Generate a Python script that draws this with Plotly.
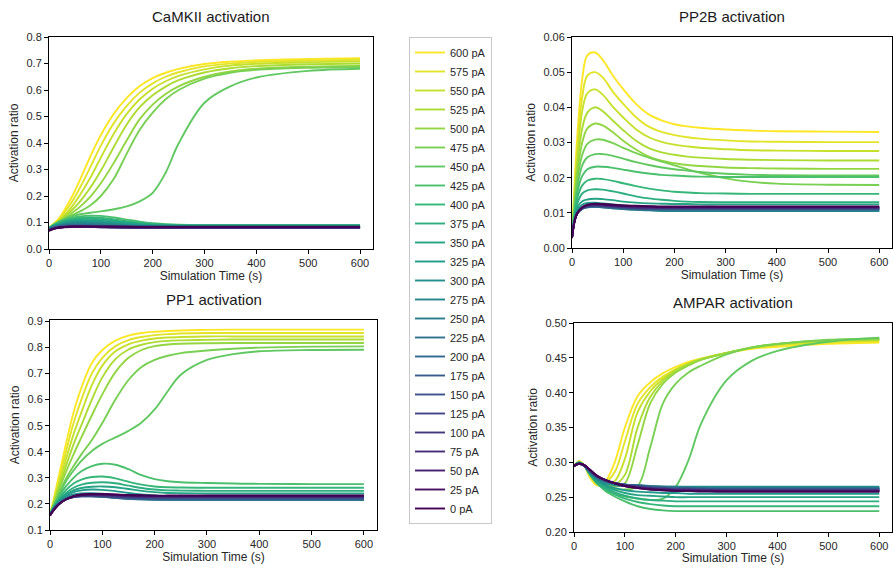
import plotly.graph_objects as go
from plotly.colors import sample_colorscale

W, H = 893, 565

# sampled simulation times (s)
time_s = [0, 5, 10, 20, 30, 45, 60, 80, 100, 125, 150, 175, 200, 225, 250, 300, 350, 400, 500, 600]

# injected currents, one row per current in every panel below (0 pA first)
currents_pA = [0, 25, 50, 75, 100, 125, 150, 175, 200, 225, 250, 275, 300,
               325, 350, 375, 400, 425, 450, 475, 500, 525, 550, 575, 600]

camkii = [
    [0.068, 0.073, 0.077, 0.081, 0.083, 0.085, 0.085, 0.085, 0.085, 0.085, 0.085, 0.084, 0.084, 0.084, 0.084, 0.084, 0.084, 0.084, 0.084, 0.084],
    [0.069, 0.073, 0.077, 0.081, 0.083, 0.084, 0.085, 0.084, 0.084, 0.084, 0.083, 0.083, 0.083, 0.083, 0.083, 0.083, 0.083, 0.083, 0.083, 0.083],
    [0.070, 0.074, 0.077, 0.081, 0.083, 0.084, 0.084, 0.084, 0.083, 0.083, 0.082, 0.082, 0.082, 0.082, 0.082, 0.082, 0.082, 0.082, 0.082, 0.082],
    [0.070, 0.074, 0.077, 0.080, 0.082, 0.083, 0.083, 0.083, 0.082, 0.082, 0.082, 0.081, 0.081, 0.081, 0.081, 0.081, 0.081, 0.081, 0.081, 0.081],
    [0.071, 0.075, 0.078, 0.081, 0.083, 0.084, 0.084, 0.083, 0.082, 0.081, 0.081, 0.080, 0.080, 0.080, 0.080, 0.080, 0.080, 0.080, 0.080, 0.080],
    [0.072, 0.075, 0.078, 0.082, 0.084, 0.085, 0.085, 0.084, 0.083, 0.082, 0.081, 0.080, 0.080, 0.080, 0.080, 0.080, 0.080, 0.080, 0.080, 0.080],
    [0.072, 0.076, 0.079, 0.083, 0.085, 0.086, 0.086, 0.085, 0.084, 0.082, 0.081, 0.080, 0.079, 0.079, 0.079, 0.079, 0.079, 0.079, 0.079, 0.079],
    [0.073, 0.077, 0.080, 0.084, 0.086, 0.087, 0.087, 0.086, 0.085, 0.083, 0.081, 0.080, 0.079, 0.079, 0.079, 0.079, 0.079, 0.079, 0.079, 0.079],
    [0.074, 0.078, 0.081, 0.085, 0.087, 0.089, 0.089, 0.088, 0.086, 0.084, 0.082, 0.080, 0.079, 0.079, 0.079, 0.079, 0.079, 0.079, 0.079, 0.079],
    [0.075, 0.079, 0.082, 0.086, 0.089, 0.091, 0.091, 0.090, 0.088, 0.086, 0.083, 0.081, 0.080, 0.080, 0.080, 0.080, 0.080, 0.080, 0.080, 0.080],
    [0.076, 0.080, 0.083, 0.088, 0.091, 0.093, 0.094, 0.093, 0.091, 0.088, 0.085, 0.083, 0.082, 0.081, 0.081, 0.081, 0.081, 0.081, 0.081, 0.081],
    [0.077, 0.081, 0.084, 0.089, 0.093, 0.096, 0.097, 0.096, 0.094, 0.091, 0.088, 0.086, 0.084, 0.083, 0.083, 0.083, 0.083, 0.083, 0.083, 0.083],
    [0.078, 0.082, 0.086, 0.091, 0.095, 0.099, 0.100, 0.100, 0.098, 0.094, 0.091, 0.088, 0.086, 0.085, 0.085, 0.085, 0.085, 0.085, 0.085, 0.085],
    [0.078, 0.083, 0.087, 0.093, 0.098, 0.102, 0.104, 0.104, 0.102, 0.098, 0.094, 0.091, 0.089, 0.088, 0.087, 0.087, 0.087, 0.087, 0.087, 0.087],
    [0.079, 0.084, 0.088, 0.095, 0.101, 0.106, 0.108, 0.109, 0.107, 0.103, 0.098, 0.094, 0.091, 0.089, 0.088, 0.088, 0.088, 0.088, 0.088, 0.088],
    [0.079, 0.085, 0.090, 0.097, 0.104, 0.110, 0.113, 0.114, 0.112, 0.107, 0.101, 0.096, 0.093, 0.091, 0.090, 0.089, 0.089, 0.089, 0.089, 0.089],
    [0.080, 0.085, 0.091, 0.100, 0.107, 0.114, 0.118, 0.120, 0.118, 0.112, 0.105, 0.099, 0.095, 0.092, 0.091, 0.090, 0.090, 0.090, 0.090, 0.090],
    [0.080, 0.086, 0.092, 0.102, 0.110, 0.118, 0.123, 0.126, 0.125, 0.119, 0.111, 0.103, 0.097, 0.094, 0.092, 0.091, 0.091, 0.091, 0.091, 0.091],
    [0.080, 0.086, 0.092, 0.103, 0.113, 0.124, 0.131, 0.137, 0.142, 0.150, 0.161, 0.180, 0.212, 0.288, 0.398, 0.552, 0.614, 0.647, 0.672, 0.680],
    [0.080, 0.086, 0.092, 0.103, 0.114, 0.128, 0.142, 0.165, 0.200, 0.265, 0.360, 0.450, 0.515, 0.565, 0.600, 0.643, 0.665, 0.676, 0.684, 0.687],
    [0.080, 0.086, 0.092, 0.104, 0.117, 0.137, 0.160, 0.198, 0.248, 0.325, 0.410, 0.490, 0.545, 0.585, 0.614, 0.650, 0.670, 0.680, 0.688, 0.692],
    [0.080, 0.087, 0.093, 0.106, 0.122, 0.148, 0.180, 0.232, 0.295, 0.385, 0.470, 0.535, 0.580, 0.613, 0.637, 0.666, 0.682, 0.690, 0.697, 0.700],
    [0.080, 0.087, 0.094, 0.109, 0.128, 0.162, 0.205, 0.270, 0.345, 0.435, 0.510, 0.565, 0.605, 0.633, 0.653, 0.678, 0.692, 0.699, 0.705, 0.708],
    [0.080, 0.087, 0.095, 0.113, 0.138, 0.180, 0.232, 0.310, 0.390, 0.475, 0.540, 0.590, 0.625, 0.650, 0.667, 0.689, 0.700, 0.706, 0.711, 0.714],
    [0.080, 0.088, 0.097, 0.118, 0.148, 0.200, 0.262, 0.350, 0.430, 0.510, 0.570, 0.615, 0.645, 0.665, 0.680, 0.698, 0.707, 0.712, 0.717, 0.720],
]

pp2b = [
    [0.0028, 0.0075, 0.0098, 0.0116, 0.0123, 0.0126, 0.0125, 0.0123, 0.0121, 0.0120, 0.0119, 0.0118, 0.0118, 0.0118, 0.0118, 0.0118, 0.0118, 0.0118, 0.0118, 0.0118],
    [0.0029, 0.0076, 0.0098, 0.0115, 0.0122, 0.0125, 0.0124, 0.0122, 0.0120, 0.0119, 0.0118, 0.0117, 0.0117, 0.0117, 0.0117, 0.0117, 0.0117, 0.0117, 0.0117, 0.0117],
    [0.0030, 0.0076, 0.0098, 0.0115, 0.0121, 0.0124, 0.0123, 0.0121, 0.0119, 0.0118, 0.0117, 0.0116, 0.0116, 0.0116, 0.0116, 0.0116, 0.0116, 0.0116, 0.0116, 0.0116],
    [0.0030, 0.0077, 0.0098, 0.0114, 0.0120, 0.0123, 0.0122, 0.0120, 0.0118, 0.0116, 0.0115, 0.0115, 0.0115, 0.0115, 0.0115, 0.0115, 0.0115, 0.0115, 0.0115, 0.0115],
    [0.0030, 0.0077, 0.0098, 0.0114, 0.0120, 0.0122, 0.0121, 0.0119, 0.0117, 0.0115, 0.0114, 0.0114, 0.0114, 0.0114, 0.0114, 0.0114, 0.0114, 0.0114, 0.0114, 0.0114],
    [0.0030, 0.0077, 0.0098, 0.0113, 0.0119, 0.0121, 0.0120, 0.0118, 0.0116, 0.0114, 0.0113, 0.0113, 0.0113, 0.0113, 0.0113, 0.0113, 0.0113, 0.0113, 0.0113, 0.0113],
    [0.0030, 0.0078, 0.0098, 0.0113, 0.0118, 0.0120, 0.0119, 0.0117, 0.0115, 0.0113, 0.0112, 0.0112, 0.0112, 0.0112, 0.0112, 0.0112, 0.0112, 0.0112, 0.0112, 0.0112],
    [0.0030, 0.0078, 0.0098, 0.0112, 0.0117, 0.0119, 0.0118, 0.0116, 0.0114, 0.0112, 0.0111, 0.0111, 0.0111, 0.0111, 0.0111, 0.0111, 0.0111, 0.0111, 0.0111, 0.0111],
    [0.0030, 0.0078, 0.0098, 0.0112, 0.0117, 0.0118, 0.0117, 0.0115, 0.0113, 0.0111, 0.0110, 0.0110, 0.0110, 0.0110, 0.0110, 0.0110, 0.0110, 0.0110, 0.0110, 0.0110],
    [0.0030, 0.0079, 0.0099, 0.0112, 0.0116, 0.0118, 0.0117, 0.0114, 0.0112, 0.0110, 0.0109, 0.0109, 0.0109, 0.0109, 0.0109, 0.0109, 0.0109, 0.0109, 0.0109, 0.0109],
    [0.0030, 0.0079, 0.0099, 0.0112, 0.0116, 0.0117, 0.0116, 0.0113, 0.0111, 0.0109, 0.0108, 0.0107, 0.0107, 0.0107, 0.0107, 0.0107, 0.0107, 0.0107, 0.0107, 0.0107],
    [0.0030, 0.0080, 0.0100, 0.0113, 0.0117, 0.0118, 0.0116, 0.0113, 0.0111, 0.0109, 0.0107, 0.0106, 0.0106, 0.0106, 0.0106, 0.0106, 0.0106, 0.0106, 0.0106, 0.0106],
    [0.0030, 0.0081, 0.0102, 0.0116, 0.0120, 0.0121, 0.0119, 0.0116, 0.0113, 0.0110, 0.0108, 0.0106, 0.0105, 0.0105, 0.0105, 0.0105, 0.0105, 0.0105, 0.0105, 0.0105],
    [0.0030, 0.0083, 0.0107, 0.0123, 0.0128, 0.0129, 0.0127, 0.0124, 0.0121, 0.0118, 0.0116, 0.0114, 0.0113, 0.0112, 0.0112, 0.0112, 0.0112, 0.0112, 0.0112, 0.0112],
    [0.0030, 0.0085, 0.0115, 0.0133, 0.0138, 0.0140, 0.0139, 0.0136, 0.0132, 0.0129, 0.0127, 0.0126, 0.0125, 0.0125, 0.0124, 0.0124, 0.0124, 0.0124, 0.0124, 0.0124],
    [0.0030, 0.0090, 0.0125, 0.0155, 0.0164, 0.0167, 0.0166, 0.0161, 0.0155, 0.0147, 0.0141, 0.0137, 0.0134, 0.0132, 0.0131, 0.0130, 0.0130, 0.0130, 0.0130, 0.0130],
    [0.0030, 0.0095, 0.0140, 0.0178, 0.0192, 0.0197, 0.0196, 0.0191, 0.0184, 0.0176, 0.0169, 0.0164, 0.0160, 0.0158, 0.0156, 0.0155, 0.0154, 0.0154, 0.0154, 0.0154],
    [0.0030, 0.0100, 0.0155, 0.0205, 0.0224, 0.0231, 0.0231, 0.0228, 0.0223, 0.0217, 0.0212, 0.0208, 0.0206, 0.0204, 0.0203, 0.0202, 0.0202, 0.0202, 0.0202, 0.0202],
    [0.0030, 0.0110, 0.0170, 0.0235, 0.0258, 0.0267, 0.0267, 0.0262, 0.0254, 0.0244, 0.0236, 0.0229, 0.0224, 0.0220, 0.0216, 0.0211, 0.0208, 0.0207, 0.0206, 0.0206],
    [0.0030, 0.0120, 0.0190, 0.0265, 0.0296, 0.0308, 0.0308, 0.0298, 0.0285, 0.0270, 0.0257, 0.0246, 0.0235, 0.0224, 0.0214, 0.0198, 0.0188, 0.0183, 0.0180, 0.0179],
    [0.0030, 0.0130, 0.0210, 0.0300, 0.0340, 0.0354, 0.0349, 0.0329, 0.0305, 0.0280, 0.0260, 0.0248, 0.0241, 0.0236, 0.0233, 0.0229, 0.0227, 0.0226, 0.0225, 0.0225],
    [0.0030, 0.0140, 0.0230, 0.0340, 0.0385, 0.0400, 0.0389, 0.0362, 0.0335, 0.0305, 0.0284, 0.0272, 0.0265, 0.0260, 0.0257, 0.0253, 0.0251, 0.0250, 0.0249, 0.0249],
    [0.0030, 0.0150, 0.0250, 0.0390, 0.0440, 0.0451, 0.0436, 0.0401, 0.0371, 0.0338, 0.0315, 0.0302, 0.0294, 0.0289, 0.0285, 0.0281, 0.0278, 0.0277, 0.0276, 0.0276],
    [0.0030, 0.0160, 0.0280, 0.0430, 0.0490, 0.0500, 0.0485, 0.0444, 0.0410, 0.0372, 0.0345, 0.0330, 0.0321, 0.0315, 0.0311, 0.0306, 0.0303, 0.0302, 0.0301, 0.0301],
    [0.0030, 0.0180, 0.0310, 0.0480, 0.0548, 0.0556, 0.0535, 0.0490, 0.0452, 0.0410, 0.0380, 0.0363, 0.0352, 0.0346, 0.0342, 0.0337, 0.0334, 0.0332, 0.0331, 0.0330],
]

pp1 = [
    [0.155, 0.170, 0.183, 0.203, 0.217, 0.230, 0.236, 0.238, 0.238, 0.236, 0.234, 0.233, 0.232, 0.232, 0.232, 0.232, 0.232, 0.232, 0.232, 0.232],
    [0.156, 0.171, 0.184, 0.204, 0.217, 0.229, 0.235, 0.237, 0.237, 0.235, 0.233, 0.232, 0.231, 0.231, 0.231, 0.231, 0.231, 0.231, 0.231, 0.231],
    [0.156, 0.171, 0.184, 0.204, 0.217, 0.229, 0.234, 0.236, 0.236, 0.234, 0.232, 0.231, 0.230, 0.230, 0.230, 0.230, 0.230, 0.230, 0.230, 0.230],
    [0.157, 0.172, 0.185, 0.204, 0.217, 0.228, 0.233, 0.235, 0.234, 0.232, 0.230, 0.229, 0.228, 0.228, 0.228, 0.228, 0.228, 0.228, 0.228, 0.228],
    [0.157, 0.172, 0.185, 0.204, 0.217, 0.228, 0.232, 0.233, 0.232, 0.230, 0.228, 0.227, 0.226, 0.226, 0.226, 0.226, 0.226, 0.226, 0.226, 0.226],
    [0.157, 0.172, 0.185, 0.204, 0.217, 0.227, 0.231, 0.232, 0.231, 0.228, 0.226, 0.225, 0.224, 0.224, 0.224, 0.224, 0.224, 0.224, 0.224, 0.224],
    [0.158, 0.173, 0.186, 0.204, 0.217, 0.226, 0.230, 0.231, 0.229, 0.226, 0.224, 0.223, 0.222, 0.222, 0.222, 0.222, 0.222, 0.222, 0.222, 0.222],
    [0.158, 0.173, 0.186, 0.204, 0.217, 0.226, 0.229, 0.229, 0.228, 0.225, 0.222, 0.221, 0.220, 0.220, 0.220, 0.220, 0.220, 0.220, 0.220, 0.220],
    [0.158, 0.174, 0.187, 0.205, 0.217, 0.226, 0.229, 0.229, 0.227, 0.223, 0.220, 0.219, 0.218, 0.218, 0.218, 0.218, 0.218, 0.218, 0.218, 0.218],
    [0.159, 0.175, 0.188, 0.206, 0.218, 0.227, 0.230, 0.230, 0.228, 0.223, 0.220, 0.218, 0.217, 0.217, 0.217, 0.217, 0.217, 0.217, 0.217, 0.217],
    [0.159, 0.175, 0.189, 0.207, 0.219, 0.228, 0.231, 0.231, 0.229, 0.224, 0.220, 0.218, 0.217, 0.216, 0.216, 0.216, 0.216, 0.216, 0.216, 0.216],
    [0.160, 0.176, 0.190, 0.208, 0.221, 0.231, 0.234, 0.234, 0.232, 0.227, 0.222, 0.219, 0.217, 0.216, 0.216, 0.216, 0.216, 0.216, 0.216, 0.216],
    [0.160, 0.177, 0.191, 0.210, 0.224, 0.236, 0.240, 0.241, 0.239, 0.233, 0.227, 0.223, 0.220, 0.219, 0.218, 0.218, 0.218, 0.218, 0.218, 0.218],
    [0.160, 0.177, 0.193, 0.215, 0.230, 0.245, 0.252, 0.255, 0.254, 0.249, 0.242, 0.236, 0.232, 0.230, 0.229, 0.228, 0.228, 0.228, 0.228, 0.228],
    [0.160, 0.178, 0.194, 0.218, 0.235, 0.252, 0.261, 0.266, 0.267, 0.264, 0.257, 0.250, 0.245, 0.242, 0.241, 0.240, 0.240, 0.240, 0.240, 0.240],
    [0.160, 0.179, 0.196, 0.222, 0.241, 0.262, 0.274, 0.281, 0.283, 0.279, 0.270, 0.261, 0.255, 0.252, 0.251, 0.250, 0.250, 0.250, 0.250, 0.250],
    [0.160, 0.180, 0.198, 0.228, 0.252, 0.278, 0.293, 0.303, 0.305, 0.298, 0.285, 0.274, 0.267, 0.264, 0.263, 0.262, 0.262, 0.262, 0.262, 0.262],
    [0.160, 0.182, 0.202, 0.237, 0.266, 0.300, 0.325, 0.345, 0.354, 0.350, 0.333, 0.310, 0.295, 0.287, 0.283, 0.280, 0.278, 0.277, 0.276, 0.276],
    [0.160, 0.183, 0.205, 0.245, 0.285, 0.328, 0.365, 0.403, 0.430, 0.455, 0.480, 0.512, 0.562, 0.632, 0.695, 0.752, 0.774, 0.785, 0.790, 0.791],
    [0.160, 0.185, 0.210, 0.255, 0.295, 0.345, 0.390, 0.445, 0.510, 0.600, 0.675, 0.725, 0.752, 0.768, 0.778, 0.788, 0.795, 0.799, 0.803, 0.804],
    [0.160, 0.187, 0.215, 0.270, 0.320, 0.390, 0.455, 0.540, 0.620, 0.705, 0.760, 0.790, 0.805, 0.811, 0.814, 0.816, 0.817, 0.817, 0.817, 0.817],
    [0.160, 0.189, 0.220, 0.282, 0.342, 0.428, 0.502, 0.600, 0.685, 0.755, 0.792, 0.810, 0.820, 0.825, 0.827, 0.829, 0.830, 0.830, 0.830, 0.830],
    [0.160, 0.191, 0.226, 0.297, 0.367, 0.467, 0.551, 0.655, 0.730, 0.785, 0.812, 0.826, 0.834, 0.838, 0.840, 0.842, 0.842, 0.842, 0.842, 0.842],
    [0.160, 0.195, 0.235, 0.315, 0.395, 0.510, 0.600, 0.700, 0.760, 0.805, 0.828, 0.840, 0.847, 0.851, 0.853, 0.855, 0.855, 0.855, 0.855, 0.855],
    [0.160, 0.200, 0.245, 0.335, 0.425, 0.550, 0.645, 0.740, 0.790, 0.826, 0.845, 0.855, 0.860, 0.863, 0.865, 0.867, 0.868, 0.868, 0.868, 0.868],
]

ampar = [
    [0.294, 0.297, 0.298, 0.296, 0.290, 0.281, 0.275, 0.270, 0.266, 0.263, 0.261, 0.260, 0.259, 0.259, 0.258, 0.258, 0.258, 0.258, 0.258, 0.258],
    [0.294, 0.297, 0.298, 0.296, 0.290, 0.281, 0.275, 0.270, 0.266, 0.263, 0.261, 0.260, 0.259, 0.259, 0.259, 0.258, 0.258, 0.258, 0.258, 0.258],
    [0.295, 0.297, 0.298, 0.296, 0.290, 0.280, 0.275, 0.270, 0.266, 0.264, 0.262, 0.261, 0.260, 0.260, 0.259, 0.259, 0.259, 0.259, 0.259, 0.259],
    [0.295, 0.297, 0.298, 0.296, 0.290, 0.280, 0.275, 0.270, 0.266, 0.264, 0.262, 0.261, 0.260, 0.260, 0.260, 0.259, 0.259, 0.259, 0.259, 0.259],
    [0.295, 0.297, 0.298, 0.296, 0.289, 0.280, 0.275, 0.270, 0.267, 0.265, 0.263, 0.262, 0.261, 0.261, 0.260, 0.260, 0.260, 0.260, 0.260, 0.260],
    [0.295, 0.297, 0.298, 0.296, 0.289, 0.280, 0.275, 0.270, 0.267, 0.265, 0.263, 0.262, 0.261, 0.261, 0.261, 0.260, 0.260, 0.260, 0.260, 0.260],
    [0.295, 0.297, 0.298, 0.295, 0.289, 0.280, 0.275, 0.270, 0.268, 0.266, 0.264, 0.263, 0.262, 0.262, 0.261, 0.261, 0.261, 0.261, 0.261, 0.261],
    [0.295, 0.297, 0.298, 0.295, 0.289, 0.279, 0.274, 0.270, 0.268, 0.266, 0.264, 0.263, 0.262, 0.262, 0.262, 0.261, 0.261, 0.261, 0.261, 0.261],
    [0.295, 0.297, 0.298, 0.295, 0.288, 0.279, 0.274, 0.270, 0.268, 0.266, 0.265, 0.264, 0.263, 0.263, 0.262, 0.262, 0.262, 0.262, 0.262, 0.262],
    [0.295, 0.297, 0.298, 0.295, 0.288, 0.279, 0.274, 0.270, 0.268, 0.267, 0.265, 0.264, 0.263, 0.263, 0.263, 0.262, 0.262, 0.262, 0.262, 0.262],
    [0.295, 0.297, 0.298, 0.295, 0.287, 0.278, 0.273, 0.270, 0.268, 0.267, 0.266, 0.265, 0.264, 0.264, 0.263, 0.263, 0.263, 0.263, 0.263, 0.263],
    [0.295, 0.297, 0.298, 0.295, 0.287, 0.277, 0.272, 0.269, 0.268, 0.267, 0.266, 0.265, 0.265, 0.264, 0.264, 0.264, 0.264, 0.264, 0.264, 0.264],
    [0.295, 0.298, 0.299, 0.295, 0.286, 0.276, 0.270, 0.267, 0.266, 0.266, 0.265, 0.265, 0.265, 0.265, 0.265, 0.265, 0.265, 0.265, 0.265, 0.265],
    [0.295, 0.298, 0.299, 0.295, 0.286, 0.275, 0.268, 0.263, 0.260, 0.258, 0.257, 0.256, 0.256, 0.255, 0.255, 0.255, 0.255, 0.255, 0.255, 0.255],
    [0.295, 0.298, 0.299, 0.295, 0.285, 0.273, 0.266, 0.260, 0.256, 0.253, 0.252, 0.251, 0.250, 0.250, 0.250, 0.250, 0.250, 0.250, 0.250, 0.250],
    [0.295, 0.298, 0.299, 0.295, 0.284, 0.271, 0.264, 0.257, 0.252, 0.248, 0.246, 0.245, 0.244, 0.244, 0.244, 0.244, 0.244, 0.244, 0.244, 0.244],
    [0.295, 0.298, 0.300, 0.295, 0.284, 0.270, 0.262, 0.254, 0.248, 0.243, 0.240, 0.238, 0.237, 0.237, 0.237, 0.237, 0.237, 0.237, 0.237, 0.237],
    [0.295, 0.298, 0.300, 0.296, 0.285, 0.270, 0.260, 0.251, 0.244, 0.237, 0.233, 0.231, 0.230, 0.230, 0.230, 0.230, 0.230, 0.230, 0.230, 0.230],
    [0.295, 0.298, 0.300, 0.296, 0.285, 0.270, 0.262, 0.255, 0.251, 0.248, 0.246, 0.248, 0.265, 0.303, 0.356, 0.418, 0.446, 0.460, 0.473, 0.479],
    [0.295, 0.298, 0.300, 0.296, 0.285, 0.271, 0.265, 0.262, 0.261, 0.266, 0.322, 0.385, 0.413, 0.429, 0.439, 0.455, 0.465, 0.470, 0.476, 0.478],
    [0.295, 0.298, 0.300, 0.296, 0.285, 0.271, 0.267, 0.265, 0.270, 0.325, 0.385, 0.413, 0.429, 0.439, 0.447, 0.457, 0.465, 0.470, 0.475, 0.477],
    [0.295, 0.298, 0.300, 0.296, 0.285, 0.271, 0.268, 0.268, 0.282, 0.350, 0.394, 0.417, 0.431, 0.441, 0.448, 0.457, 0.465, 0.470, 0.475, 0.476],
    [0.295, 0.298, 0.301, 0.296, 0.284, 0.270, 0.269, 0.273, 0.305, 0.372, 0.402, 0.420, 0.433, 0.442, 0.448, 0.457, 0.464, 0.469, 0.474, 0.475],
    [0.295, 0.299, 0.301, 0.296, 0.283, 0.269, 0.270, 0.286, 0.330, 0.384, 0.408, 0.423, 0.434, 0.442, 0.448, 0.457, 0.464, 0.468, 0.472, 0.474],
    [0.295, 0.299, 0.302, 0.296, 0.280, 0.267, 0.271, 0.300, 0.350, 0.395, 0.415, 0.428, 0.437, 0.444, 0.449, 0.457, 0.463, 0.466, 0.470, 0.472],
]

colors = sample_colorscale("Viridis", [i / (len(currents_pA) - 1) for i in range(len(currents_pA))])

# pixel helpers (figure has zero margins, so paper coords map straight to pixels)
def fx(px):
    return px / W

def fy(px):
    return 1 - px / H

# (data, axis suffix, title, y range, tick step, tick format, box left/right/top/bottom in px)
panels = [
    (camkii, "", "CaMKII activation", [0, 0.8], 0.1, ".1f", (49, 373, 37, 249)),
    (pp2b, "2", "PP2B activation", [0, 0.06], 0.01, ".2f", (572, 892, 37, 248)),
    (pp1, "3", "PP1 activation", [0.1, 0.905], 0.1, ".1f", (50, 377, 320, 530)),
    (ampar, "4", "AMPAR activation", [0.2, 0.5], 0.05, ".2f", (574, 892, 323, 532)),
]

fig = go.Figure()
font = "Liberation Sans, Arial, sans-serif"
annotations = []

for p, (rows, sfx, title, yr, dt, fmt, box) in enumerate(panels):
    # plot high currents first so the low ones sit on top, like the original
    for i in reversed(range(len(currents_pA))):
        fig.add_trace(go.Scatter(
            x=time_s, y=rows[i],
            mode="lines",
            line=dict(color=colors[i], width=1.9, shape="spline", smoothing=1.0),
            name=f"{currents_pA[i]} pA",
            legendgroup=str(currents_pA[i]),
            showlegend=(p == 0),
            xaxis="x" + sfx, yaxis="y" + sfx,
        ))
    l, r, t, b = box
    axis_common = dict(
        showline=True, mirror=True, linecolor="black", linewidth=1,
        ticks="outside", ticklen=4, tickcolor="black",
        showgrid=False, zeroline=False, automargin=False,
        tickfont=dict(size=11, color="#262626", family=font),
    )
    fig.layout["xaxis" + sfx] = dict(
        domain=[fx(l), fx(r)], anchor="y" + sfx, range=[0, 625],
        tickvals=[0, 100, 200, 300, 400, 500, 600],
        title=dict(text="Simulation Time (s)", font=dict(size=12, color="#262626", family=font), standoff=2),
        **axis_common,
    )
    fig.layout["yaxis" + sfx] = dict(
        domain=[fy(b), fy(t)], anchor="x" + sfx, range=yr,
        dtick=dt, tick0=0, tickformat=fmt,
        title=dict(text="Activation ratio", font=dict(size=12, color="#262626", family=font), standoff=5),
        **axis_common,
    )
    annotations.append(dict(
        text=title, x=fx((l + r) / 2), y=fy(t - 21), xref="paper", yref="paper",
        xanchor="center", yanchor="middle", showarrow=False,
        font=dict(size=15, color="#1a1a1a", family=font),
    ))

fig.update_layout(
    width=W, height=H,
    margin=dict(l=0, r=0, t=0, b=0, autoexpand=False),
    paper_bgcolor="white", plot_bgcolor="white",
    font=dict(family=font, color="#262626"),
    annotations=annotations,
    legend=dict(
        x=fx(409), y=fy(37), xanchor="left", yanchor="top",
        bordercolor="#c8c8c8", borderwidth=1, bgcolor="white",
        font=dict(size=11, color="#262626", family=font),
        traceorder="normal",
    ),
)

# the page body has a default 8px margin; drop it so the figure fills the window
fig.write_html("out.html", config={"displayModeBar": False},
               post_script="document.body.style.margin='0';")
